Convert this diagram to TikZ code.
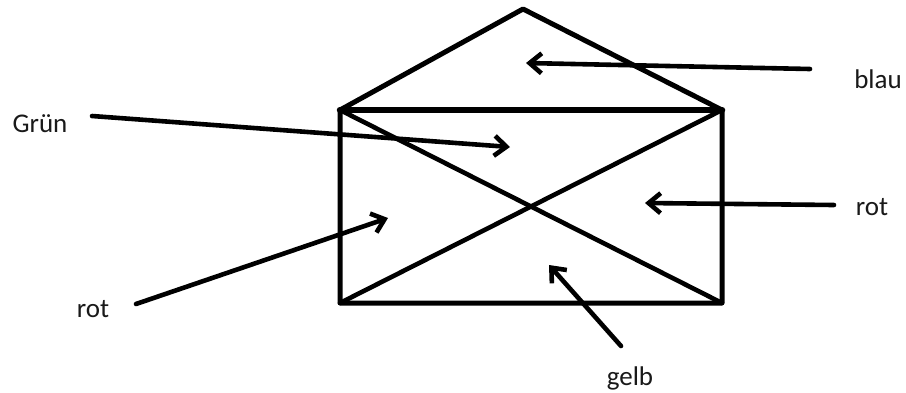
\documentclass[tikz,border=0pt]{standalone}
\usepackage{fontspec}
\setmainfont{Carlito}
\usetikzlibrary{arrows.meta}
\begin{document}
\begin{tikzpicture}[x=1pt,y=-1pt,
  outline/.style={line width=5pt, line join=round, line cap=round, black},
  pointer/.style={line width=4.6pt, line cap=round, black,
    -{Straight Barb[length=12pt,width=20pt,line width=4.6pt]}},
  lab/.style={anchor=base, inner sep=0pt, font=\fontsize{27}{30}\selectfont, text=black!90}]
\useasboundingbox[fill=white] (0,0) rectangle (906,392);
% geometry
\coordinate (tl) at (340,110);
\coordinate (tr) at (722,110);
\coordinate (bl) at (340,303);
\coordinate (br) at (722,303);
\coordinate (apex) at (523,9);
\draw[outline] (bl) -- (tl) -- (apex) -- (tr) -- (br) -- cycle;
\draw[outline, line width=6.5pt] (tl) -- (tr);
\draw[outline, line width=4.6pt] (tl) -- (br);
\draw[outline, line width=4.6pt] (bl) -- (tr);
% labels
\node[lab] (gruen) at (40,132) {Grün};
\node[lab] (blau) at (878,88) {blau};
\node[lab] (rotr) at (872,215) {rot};
\node[lab] (rotl) at (93,317) {rot};
\node[lab] (gelb) at (630,385) {gelb};
% arrow ends
\coordinate (gS) at (92,116);  \coordinate (gT) at (510,147);
\coordinate (bS) at (810,69);  \coordinate (bT) at (526,63);
\coordinate (rrS) at (834,205); \coordinate (rrT) at (645,203);
\coordinate (rlS) at (136,304); \coordinate (rlT) at (388,218);
\coordinate (yS) at (621,346); \coordinate (yT) at (549,265);
\draw[pointer] (gS) -- (gT);
\draw[pointer] (bS) -- (bT);
\draw[pointer] (rrS) -- (rrT);
\draw[pointer] (rlS) -- (rlT);
\draw[pointer] (yS) -- (yT);
\end{tikzpicture}
\end{document}
